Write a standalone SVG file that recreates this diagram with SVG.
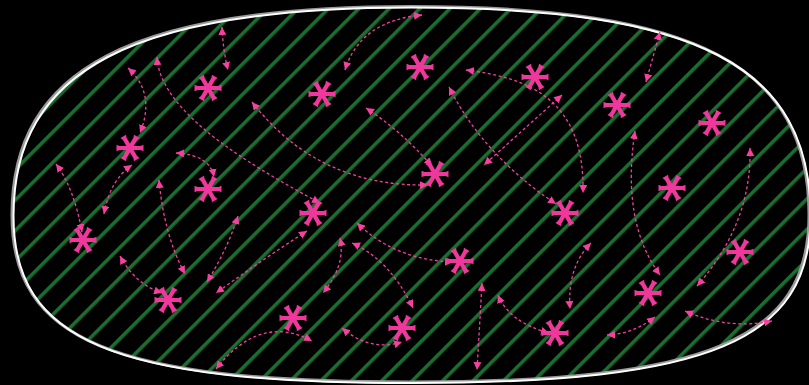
<svg xmlns="http://www.w3.org/2000/svg" xmlns:xlink="http://www.w3.org/1999/xlink" width="809" height="385" viewBox="0 0 809 385">
<defs>
<style>
.conn{fill:none;stroke:#f5409f;stroke-width:1.3;stroke-dasharray:3 2.5;marker-start:url(#ah);marker-end:url(#ah)}
.ast{fill:#f0389c}
</style>
<marker id="ah" viewBox="0 0 10 10" refX="10" refY="5" markerWidth="8" markerHeight="8" markerUnits="userSpaceOnUse" orient="auto-start-reverse">
<path d="M0,0 L10,5 L0,10 Z" fill="#f5409f"/>
</marker>
<pattern id="stripes" patternUnits="userSpaceOnUse" width="21.5" height="21.5" patternTransform="rotate(45)">
<rect x="0" y="0" width="3.6" height="21.5" fill="#1c6d30"/>
</pattern>
<path id="arm" d="M-13.5,-3.2 L-10.5,-2.1 L10.5,-2.1 L13.5,-3.2 L13.5,3.2 L10.5,2.1 L-10.5,2.1 L-13.5,3.2 Z"/>
<g id="ast">
<use xlink:href="#arm"/>
<use xlink:href="#arm" transform="rotate(60)"/>
<use xlink:href="#arm" transform="rotate(120)"/>
</g>
<path id="blob" d="M410,6.5 C697,6.5 809,65 809,215 C809,340 709,382 410,382 C111.5,382 12,340 12,215 C12,69 131,6.5 410,6.5 Z"/>
</defs>
<rect width="809" height="385" fill="#000"/>
<g id="region">
<use xlink:href="#blob" fill="url(#stripes)"/>
<use xlink:href="#blob" fill="none" stroke="#9a9a9a" stroke-width="3"/>
<use xlink:href="#blob" fill="none" stroke="#ffffff" stroke-width="2" transform="translate(1.5,1)"/>
</g>
<g id="connectors">
<path class="conn" d="M222,27 Q223,50 228,70"/>
<path class="conn" d="M128,68 Q156,93 140,133"/>
<path class="conn" d="M157,57 C160,110 240,160 320,203"/>
<path class="conn" d="M176,153 Q210,155 214,177"/>
<path class="conn" d="M56,164 Q74,188 82,232"/>
<path class="conn" d="M132,165 Q110,180 104,214"/>
<path class="conn" d="M159,180 Q164,235 185,274"/>
<path class="conn" d="M238,216 Q227,250 207,282"/>
<path class="conn" d="M307,231 Q262,260 216,293"/>
<path class="conn" d="M120,256 Q135,284 162,293"/>
<path class="conn" d="M216,369 Q260,313 312,341"/>
<path class="conn" d="M422,15 Q360,21 345,70"/>
<path class="conn" d="M366,108 Q400,130 432,166"/>
<path class="conn" d="M252,102 Q318,187 428,185"/>
<path class="conn" d="M466,70 C530,78 585,100 583,193"/>
<path class="conn" d="M449,87 Q483,155 556,204"/>
<path class="conn" d="M562,95 L484,165"/>
<path class="conn" d="M660,32 L646,82"/>
<path class="conn" d="M635,131 Q621,222 660,275"/>
<path class="conn" d="M750,148 Q752,223 697,286"/>
<path class="conn" d="M591,243 Q567,267 570,309"/>
<path class="conn" d="M655,317 Q633,334 607,335"/>
<path class="conn" d="M685,311 Q728,330 772,321"/>
<path class="conn" d="M357,223 Q395,260 453,262"/>
<path class="conn" d="M340,238 Q346,265 323,293"/>
<path class="conn" d="M352,243 Q390,260 413,308"/>
<path class="conn" d="M342,328 Q370,352 402,342"/>
<path class="conn" d="M482,283 L477,370"/>
<path class="conn" d="M498,295 Q509,322 549,333"/>
</g>
<g id="n1" class="ast"><use xlink:href="#ast" x="208" y="88"/></g>
<g id="n2" class="ast"><use xlink:href="#ast" x="322" y="94"/></g>
<g id="n3" class="ast"><use xlink:href="#ast" x="420" y="67"/></g>
<g id="n4" class="ast"><use xlink:href="#ast" x="535" y="77"/></g>
<g id="n5" class="ast"><use xlink:href="#ast" x="617" y="105"/></g>
<g id="n6" class="ast"><use xlink:href="#ast" x="712" y="123"/></g>
<g id="n7" class="ast"><use xlink:href="#ast" x="130" y="148"/></g>
<g id="n8" class="ast"><use xlink:href="#ast" x="208" y="189"/></g>
<g id="n9" class="ast"><use xlink:href="#ast" x="435" y="174"/></g>
<g id="n10" class="ast"><use xlink:href="#ast" x="672" y="188"/></g>
<g id="n11" class="ast"><use xlink:href="#ast" x="83" y="240"/></g>
<g id="n12" class="ast"><use xlink:href="#ast" x="313" y="213"/></g>
<g id="n13" class="ast"><use xlink:href="#ast" x="565" y="213"/></g>
<g id="n14" class="ast"><use xlink:href="#ast" x="460" y="261"/></g>
<g id="n15" class="ast"><use xlink:href="#ast" x="740" y="252"/></g>
<g id="n16" class="ast"><use xlink:href="#ast" x="168" y="300"/></g>
<g id="n17" class="ast"><use xlink:href="#ast" x="648" y="293"/></g>
<g id="n18" class="ast"><use xlink:href="#ast" x="293" y="318"/></g>
<g id="n19" class="ast"><use xlink:href="#ast" x="402" y="328"/></g>
<g id="n20" class="ast"><use xlink:href="#ast" x="555" y="333"/></g>
</svg>
